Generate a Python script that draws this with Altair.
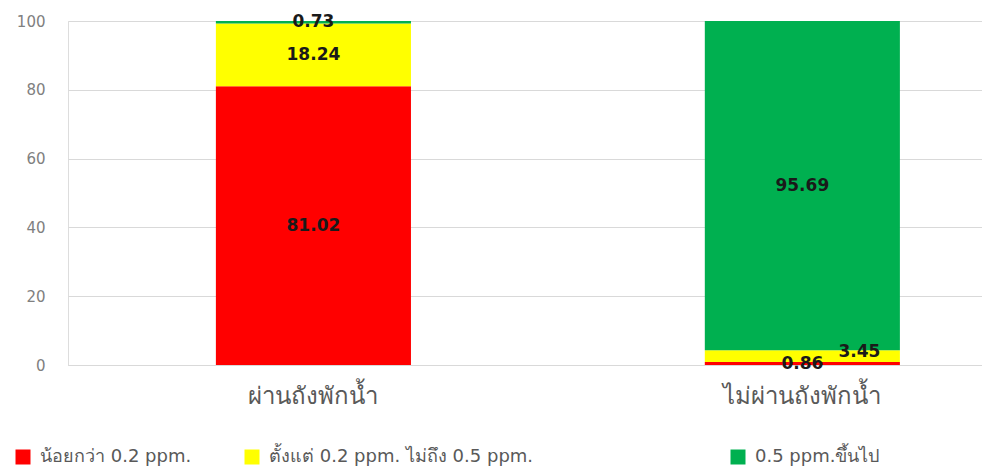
import altair as alt
import pandas as pd

sites = ["ผ่านถังพักน้ำ", "ไม่ผ่านถังพักน้ำ"]
categories = ["น้อยกว่า 0.2 ppm.", "ตั้งแต่ 0.2 ppm. ไม่ถึง 0.5 ppm.", "0.5 ppm.ขึ้นไป"]
colors = ["#FF0000", "#FFFF00", "#00B050"]
values_site1 = [81.02, 18.24, 0.73]
values_site2 = [0.86, 3.45, 95.69]
y_ticks = [0, 20, 40, 60, 80, 100]

rows = []
for s, vals in zip(sites, [values_site1, values_site2]):
    for i, (c, v) in enumerate(zip(categories, vals)):
        rows.append({"site": s, "cat": c, "order": i, "value": v, "label": f"{v:.2f}"})
df = pd.DataFrame(rows)

W, H = 914, 344

x_enc = alt.X("site:N", sort=sites, title=None,
              scale=alt.Scale(paddingInner=0.601, paddingOuter=0.2352, align=0.643),
              axis=alt.Axis(labelAngle=0, labelFontSize=24, labelColor="#595959",
                            labelFont="Noto Sans", labelPadding=19, ticks=False,
                            domainColor="#d9d9d9", grid=False))
y_scale = alt.Scale(domain=[0, 100], nice=False)
y_axis = alt.Axis(values=y_ticks, labelFontSize=15, labelColor="#808080",
                  labelFont="DejaVu Sans", ticks=False, domain=False,
                  gridColor="#d9d9d9", labelPadding=23, title=None)

base = alt.Chart(df).transform_stack(
    stack="value", groupby=["site"], as_=["y0", "y1"],
    sort=[alt.SortField("order", order="ascending")]
).transform_calculate(mid="(datum.y0 + datum.y1) / 2")

legend_x = [-54, 175, 661]
layers = []
for i, (c, col, lx) in enumerate(zip(categories, colors, legend_x)):
    layer = base.transform_filter(alt.datum.cat == c).mark_bar().encode(
        x=x_enc,
        y=alt.Y("y0:Q", scale=y_scale, title=None, axis=y_axis),
        y2="y1:Q",
        color=alt.Color("cat:N", scale=alt.Scale(domain=[c], range=[col]),
                        legend=alt.Legend(title=None, orient="none", legendX=lx, legendY=427,
                                          symbolType="square", symbolSize=225,
                                          symbolStrokeWidth=0, labelFontSize=18,
                                          labelFont="DejaVu Sans", labelColor="#595959",
                                          labelOffset=8, padding=0, labelLimit=500)),
    )
    layers.append(layer)

text_main = base.transform_filter(alt.datum.label != "3.45").mark_text(
    fontSize=17, fontWeight="bold", font="DejaVu Sans", color="#1a1a1a"
).encode(x=x_enc, y=alt.Y("mid:Q", scale=y_scale, axis=y_axis), text="label:N")

text_shift = base.transform_filter(alt.datum.label == "3.45").mark_text(
    fontSize=17, fontWeight="bold", font="DejaVu Sans", color="#1a1a1a", dx=57, dy=-4
).encode(x=x_enc, y=alt.Y("mid:Q", scale=y_scale, axis=y_axis), text="label:N")

chart = alt.layer(*layers, text_main, text_shift).resolve_scale(
    color="independent"
).properties(
    width=W, height=H,
    autosize=alt.AutoSizeParams(type="none"),
    padding={"left": 68, "top": 21, "right": 0, "bottom": 103},
).configure_view(strokeWidth=0).configure(background="white")

chart.save("out.html", embed_options={"renderer": "svg", "actions": False})
